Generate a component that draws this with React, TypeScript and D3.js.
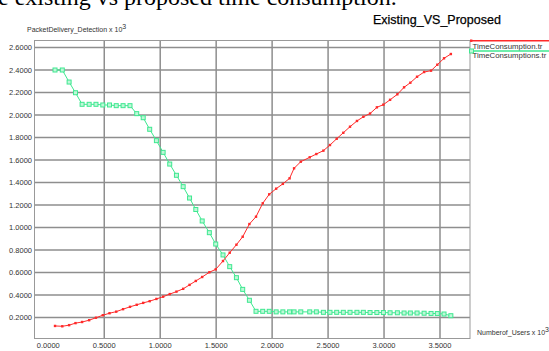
import React from "react";
import * as d3 from "d3";

const users = [0.06, 0.125, 0.186, 0.243, 0.302, 0.365, 0.426, 0.487, 0.547, 0.607, 0.668, 0.73, 0.79, 0.848, 0.906, 0.966, 1.026, 1.085, 1.145, 1.205, 1.262, 1.318, 1.375, 1.439, 1.496, 1.561, 1.621, 1.681, 1.737, 1.797, 1.856, 1.916, 1.974, 2.036, 2.096, 2.156, 2.196, 2.256, 2.336, 2.395, 2.458, 2.517, 2.577, 2.636, 2.696, 2.758, 2.815, 2.875, 2.936, 2.994, 3.054, 3.119, 3.179, 3.235, 3.295, 3.358, 3.42, 3.476, 3.536, 3.597];

const timeConsumption = [0.125, 0.122, 0.132, 0.15, 0.16, 0.176, 0.198, 0.22, 0.238, 0.252, 0.274, 0.295, 0.313, 0.33, 0.345, 0.365, 0.385, 0.408, 0.43, 0.455, 0.49, 0.525, 0.56, 0.602, 0.628, 0.702, 0.776, 0.847, 0.918, 1.031, 1.096, 1.215, 1.295, 1.345, 1.388, 1.437, 1.526, 1.585, 1.624, 1.653, 1.683, 1.733, 1.789, 1.842, 1.896, 1.947, 1.984, 2.013, 2.068, 2.092, 2.135, 2.184, 2.246, 2.287, 2.34, 2.382, 2.394, 2.447, 2.504, 2.542];

const timeConsumptions = [2.4, 2.4, 2.293, 2.198, 2.095, 2.095, 2.095, 2.089, 2.089, 2.083, 2.083, 2.083, 2.012, 1.976, 1.873, 1.772, 1.668, 1.564, 1.464, 1.363, 1.262, 1.16, 1.058, 0.954, 0.853, 0.756, 0.652, 0.554, 0.45, 0.353, 0.255, 0.255, 0.255, 0.25, 0.25, 0.25, 0.25, 0.25, 0.25, 0.25, 0.246, 0.246, 0.246, 0.246, 0.246, 0.246, 0.246, 0.244, 0.244, 0.244, 0.242, 0.242, 0.24, 0.24, 0.24, 0.238, 0.236, 0.235, 0.231, 0.216];

const xTicks = [0, 0.5, 1.0, 1.5, 2.0, 2.5, 3.0, 3.5];
const yTicks = [0.2, 0.4, 0.6, 0.8, 1.0, 1.2, 1.4, 1.6, 1.8, 2.0, 2.2, 2.4, 2.6];

const seriesNames = ["TimeConsumption.tr", "TimeConsumptions.tr"];
const seriesColors = ["#ff2a2a", "#3ee890"];

export default function App() {
  const W = 549, H = 351;
  const frame = { left: 34.5, right: 470, top: 40.5, bottom: 338.5 };
  const x = d3.scaleLinear().domain([0, 3.5]).range([48.3, 440]);
  const y = d3.scaleLinear().domain([0, 2.6]).range([340, 47.5]);
  const font = "'Liberation Sans', Arial, sans-serif";

  const redPts: [number, number][] = users.map((u, i) => [u, timeConsumption[i]]);
  const greenPts: [number, number][] = users.map((u, i) => [u, timeConsumptions[i]]);
  const line = d3.line<[number, number]>().x(d => x(d[0])).y(d => y(d[1]));

  return (
    <svg width={W} height={H} style={{ position: "absolute", left: 0, top: 0, background: "#fff" }}>
      <rect x={0} y={0} width={W} height={H} fill="#fff" />
      <text x={-2} y={5} fontFamily="'Liberation Serif', 'Times New Roman', serif" fontSize={24} fill="#000">e existing vs proposed time consumption.</text>
      <text x={373} y={24} fontFamily={font} fontSize={12.5} fill="#000" stroke="#000" strokeWidth={0.25}>Existing_VS_Proposed</text>
      <text x={27} y={31.5} fontFamily={font} fontSize={7} fill="#333">
        PacketDelivery_Detection x 10<tspan dy={-3} fontSize={7}>3</tspan>
      </text>
      {/* grid */}
      {yTicks.map(t => (
        <line key={"gy" + t} x1={frame.left} x2={frame.right} y1={y(t)} y2={y(t)} stroke="#8e8e8e" strokeWidth={1.5} />
      ))}
      {xTicks.filter(t => t > 0).map(t => (
        <line key={"gx" + t} x1={x(t)} x2={x(t)} y1={frame.top} y2={frame.bottom} stroke="#8e8e8e" strokeWidth={1.5} />
      ))}
      <rect x={frame.left} y={frame.top} width={frame.right - frame.left} height={frame.bottom - frame.top} fill="none" stroke="#999" strokeWidth={1} />
      {/* y labels */}
      {yTicks.map(t => (
        <text key={"ly" + t} x={32} y={y(t) + 2.5} textAnchor="end" fontFamily={font} fontSize={7.5} fill="#333">{t.toFixed(4)}</text>
      ))}
      {xTicks.map(t => (
        <text key={"lx" + t} x={x(t)} y={348} textAnchor="middle" fontFamily={font} fontSize={7.5} fill="#333">{t.toFixed(4)}</text>
      ))}
      <text x={477} y={335} fontFamily={font} fontSize={7} fill="#333">
        Numberof_Users x 10<tspan dy={-3} fontSize={7}>3</tspan>
      </text>
      {/* series */}
      <path d={line(greenPts) || ""} fill="none" stroke={seriesColors[1]} strokeWidth={1} />
      {greenPts.map((d, i) => (
        <rect key={"g" + i} x={x(d[0]) - 2} y={y(d[1]) - 2} width={4} height={4} fill="#bff7d8" stroke={seriesColors[1]} strokeWidth={1} />
      ))}
      <path d={line(redPts) || ""} fill="none" stroke={seriesColors[0]} strokeWidth={1} />
      {redPts.map((d, i) => (
        <rect key={"r" + i} x={x(d[0]) - 1.2} y={y(d[1]) - 1.2} width={2.4} height={2.4} fill={seriesColors[0]} />
      ))}
      {/* legend */}
      <line x1={471} x2={549} y1={40.7} y2={40.7} stroke={seriesColors[0]} strokeWidth={1.5} />
      <rect x={470} y={39.5} width={2.4} height={2.4} fill={seriesColors[0]} />
      <text x={472.5} y={48.7} fontFamily={font} fontSize={7.8} fill="#333">{seriesNames[0]}</text>
      <line x1={471} x2={549} y1={51} y2={51} stroke={seriesColors[1]} strokeWidth={1.5} />
      <rect x={469.5} y={49} width={4} height={4} fill="#bff7d8" stroke={seriesColors[1]} strokeWidth={1} />
      <text x={472.5} y={58.2} fontFamily={font} fontSize={7.8} fill="#333">{seriesNames[1]}</text>
    </svg>
  );
}
